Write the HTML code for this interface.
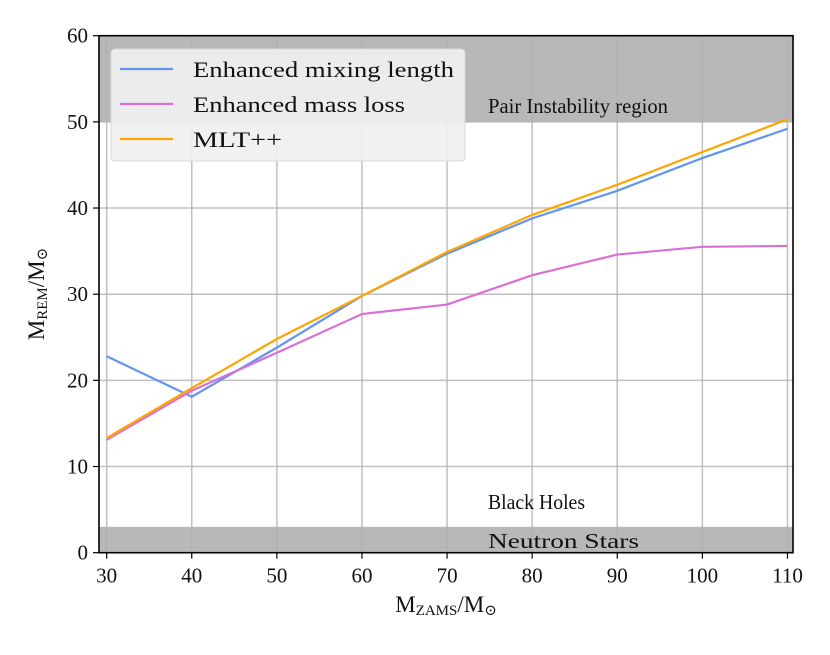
<!DOCTYPE html>
<html><head><meta charset="utf-8"><style>
body{margin:0;background:#fff}
svg text{font-family:"Liberation Serif","DejaVu Serif",serif;fill:#111}
</style></head><body>
<svg id="chart" width="830" height="650"></svg>
<script>
const xCats=[30,40,50,60,70,80,90,100,110];
const mixing=[22.8,18.1,23.8,29.8,34.7,38.8,42.0,45.8,49.2];
const massLoss=[13.1,18.8,23.2,27.7,28.8,32.2,34.6,35.5,35.6];
const mltpp=[13.3,19.1,24.8,29.8,34.9,39.2,42.7,46.5,50.3];
const yTicks=[0,10,20,30,40,50,60];
const xTicks=[30,40,50,60,70,80,90,100,110];
const L=99,R=793,T=35.7,B=552.7,xmin=29.1,xmax=110.65,ymin=0,ymax=60;
const sx=v=>L+(v-xmin)/(xmax-xmin)*(R-L);
const sy=v=>B-(v-ymin)/(ymax-ymin)*(B-T);
const svg=document.getElementById('chart');
const NS='http://www.w3.org/2000/svg';
function mk(t,a,txt){const e=document.createElementNS(NS,t);for(const k in a)e.setAttribute(k,a[k]);if(txt!==undefined)e.textContent=txt;svg.appendChild(e);return e;}
let e;
e=mk('rect',{x:L,y:sy(60),width:R-L,height:sy(50)-sy(60),fill:'#b8b8b8'});

e=mk('rect',{x:L,y:sy(3),width:R-L,height:B-sy(3),fill:'#b8b8b8'});

xTicks.forEach(v=>{e=mk('line',{x1:sx(v),x2:sx(v),y1:T,y2:B,stroke:'#b0b0b0','stroke-width':1.5,'stroke-opacity':0.8});

e=mk('line',{x1:sx(v),x2:sx(v),y1:B,y2:B+6,stroke:'#000','stroke-width':1.2});

e=mk('text',{x:sx(v),y:B+30,'text-anchor':'middle','font-size':21},v);
});
yTicks.forEach(v=>{e=mk('line',{x1:L,x2:R,y1:sy(v),y2:sy(v),stroke:'#b0b0b0','stroke-width':1.5,'stroke-opacity':0.8});

e=mk('line',{x1:L-6,x2:L,y1:sy(v),y2:sy(v),stroke:'#000','stroke-width':1.2});

e=mk('text',{x:L-11,y:sy(v)+7,'text-anchor':'end','font-size':21},v);
});
e=mk('text',{x:488,y:113,'font-size':21,textLength:180,lengthAdjust:'spacingAndGlyphs'},'Pair Instability region');

e=mk('text',{x:488,y:509,'font-size':21,textLength:97,lengthAdjust:'spacingAndGlyphs'},'Black Holes');

e=mk('text',{x:488,y:548,'font-size':21,textLength:151,lengthAdjust:'spacingAndGlyphs'},'Neutron Stars');

const series=[[mixing,'#6495ed','line-enhanced-mixing-length'],[massLoss,'#da70d6','line-enhanced-mass-loss'],[mltpp,'#ffa500','line-mlt-plus-plus']];
series.forEach(s=>{e=mk('polyline',{points:xCats.map((x,i)=>sx(x)+','+sy(s[0][i])).join(' '),fill:'none',stroke:s[1],'stroke-width':2.2});
});
e=mk('rect',{x:L,y:T,width:R-L,height:B-T,fill:'none',stroke:'#000','stroke-width':1.6});

e=mk('rect',{x:111,y:49,width:354,height:112,rx:4,fill:'#f0f0f0','fill-opacity':0.92,stroke:'#d8d8d8'});

const legNames=['Enhanced mixing length','Enhanced mass loss','MLT++'];
const legColors=['#6495ed','#da70d6','#ffa500'];
const legLens=[261,212,89];
legNames.forEach((n,i)=>{const y=69+i*35;
e=mk('line',{x1:120,x2:173,y1:y,y2:y,stroke:legColors[i],'stroke-width':2.2});

e=mk('text',{x:193,y:y+8,'font-size':22,textLength:legLens[i],lengthAdjust:'spacingAndGlyphs'},n);
});
e=mk('text',{x:446,y:612,'text-anchor':'middle','font-size':23});
e.innerHTML='M<tspan font-size="15" dy="3">ZAMS</tspan><tspan dy="-3">/M</tspan><tspan font-size="15" dy="3">⊙</tspan>';

e=mk('text',{x:0,y:0,'text-anchor':'middle','font-size':23,transform:'translate(44,294) rotate(-90)'});
e.innerHTML='M<tspan font-size="15" dy="3">REM</tspan><tspan dy="-3">/M</tspan><tspan font-size="15" dy="3">⊙</tspan>';

</script>
</body></html>
